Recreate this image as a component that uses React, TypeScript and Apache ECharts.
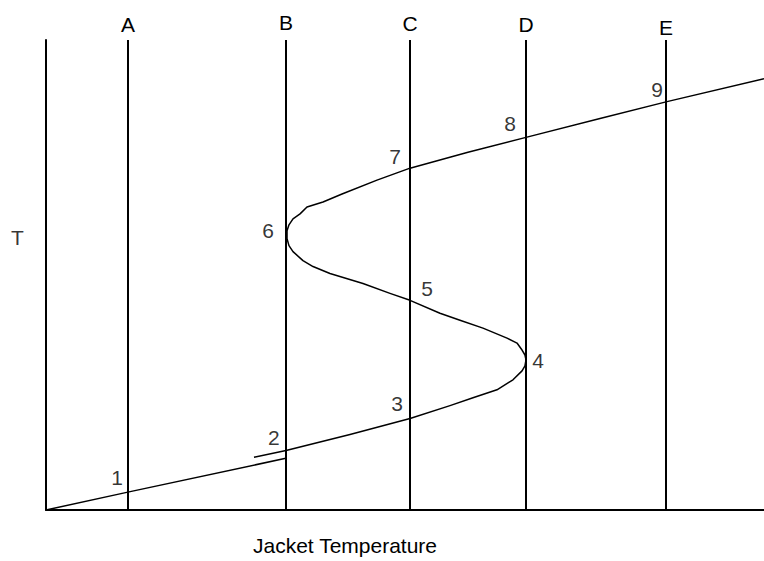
import React, { useEffect, useRef } from "react";
import * as echarts from "echarts";

// Units: arbitrary jacket temperature (x, 0..100) and reactor temperature T (y, 0..100)
const lowerBranchX = [0, 11.4, 33.4];
const lowerBranchY = [0, 3.8, 11.0];

const upperBranchX = [
  28.97, 33.43, 42.34, 50.7, 56.27, 59.47, 62.81, 65.04, 66.3, 66.71, 66.85, 66.71, 66.3,
  65.6, 64.21, 60.86, 57.66, 54.87, 50.7, 47.91, 44.15, 39.55, 37.19, 35.79, 34.4, 33.84,
  33.57, 33.57, 33.84, 34.4, 35.38, 36.35, 38.58, 41.23, 46.1, 50.7, 58.77, 66.85, 77.16,
  86.49, 100,
];
const upperBranchY = [
  11.21, 12.68, 16.07, 19.45, 22.2, 23.89, 25.58, 27.7, 29.6, 30.66, 31.92, 32.98, 34.04,
  35.52, 36.58, 38.69, 40.38, 41.86, 44.61, 46.09, 48.2, 50.32, 51.8, 53.07, 54.97, 56.24,
  57.72, 59.41, 60.68, 61.95, 63.0, 64.48, 65.54, 67.23, 70.19, 72.73, 76.11, 79.28, 83.3,
  86.89, 91.75,
];

const jacketLineNames = ["A", "B", "C", "D", "E"];
const jacketLineX = [11.42, 33.43, 50.7, 66.85, 86.35];
const jacketLabelGap = [5.5, 7.5, 6.5, 5, 2.5];

const pointLabels = ["1", "2", "3", "4", "5", "6", "7", "8", "9"];
const pointLabelX = [9.89, 31.75, 48.89, 68.52, 53.06, 30.92, 48.61, 64.62, 85.1];
const pointLabelY = [6.98, 15.43, 22.62, 31.71, 47.15, 59.41, 75.26, 82.24, 89.43];

const yTitle = "T";
const yTitlePos = [-3.97, 57.93];
const xTitle = "Jacket Temperature";

const FONT = "'Liberation Sans', Arial, sans-serif";
const FS = 21;

export default function App() {
  const ref = useRef<HTMLDivElement>(null);

  useEffect(() => {
    if (!ref.current) return;
    const chart = echarts.init(ref.current, null, { renderer: "svg" });

    const pair = (xs: number[], ys: number[]) => xs.map((x, i) => [x, ys[i]]);
    const textStyle = { color: "#000", fontFamily: FONT, fontSize: FS };

    chart.setOption({
      animation: false,
      backgroundColor: "#ffffff",
      grid: { left: 46, right: 0, top: 40, bottom: 48 },
      xAxis: {
        type: "value",
        min: 0,
        max: 100,
        name: xTitle,
        nameLocation: "middle",
        nameGap: 25,
        nameTextStyle: { ...textStyle, padding: [0, 120, 0, 0] },
        axisLine: { show: true, lineStyle: { color: "#000", width: 2 } },
        axisTick: { show: false },
        axisLabel: { show: false },
        splitLine: { show: false },
      },
      yAxis: {
        type: "value",
        min: 0,
        max: 100,
        axisLine: { show: true, lineStyle: { color: "#000", width: 2 } },
        axisTick: { show: false },
        axisLabel: { show: false },
        splitLine: { show: false },
      },
      series: [
        {
          type: "line",
          name: "jacket lines",
          data: [],
          markLine: {
            silent: true,
            symbol: "none",
            lineStyle: { color: "#000", width: 2, type: "solid" },
            label: { show: true, position: "end", formatter: "{b}", ...textStyle },
            data: jacketLineX.map((x, i) => ({
              name: jacketLineNames[i],
              xAxis: x,
              label: { distance: jacketLabelGap[i] },
            })),
          },
        },
        {
          type: "line",
          name: "lower",
          data: pair(lowerBranchX, lowerBranchY),
          showSymbol: false,
          lineStyle: { color: "#000", width: 1.5 },
        },
        {
          type: "line",
          name: "upper",
          data: pair(upperBranchX, upperBranchY),
          showSymbol: false,
          smooth: false,
          lineStyle: { color: "#000", width: 1.5, join: "round" },
        },
        {
          type: "scatter",
          name: "points",
          symbolSize: 0,
          clip: false,
          data: pointLabels.map((n, i) => ({ name: n, value: [pointLabelX[i], pointLabelY[i]] })),
          label: { show: true, position: "inside", formatter: "{b}", ...textStyle },
        },
        {
          type: "scatter",
          name: "y title",
          symbolSize: 0,
          clip: false,
          data: [{ name: yTitle, value: yTitlePos }],
          label: { show: true, position: "inside", formatter: "{b}", ...textStyle },
        },
      ],
    });

    return () => chart.dispose();
  }, []);

  return (
    <div
      ref={ref}
      style={{ position: "absolute", left: 0, top: 0, width: 764, height: 561, background: "#fff" }}
    />
  );
}
